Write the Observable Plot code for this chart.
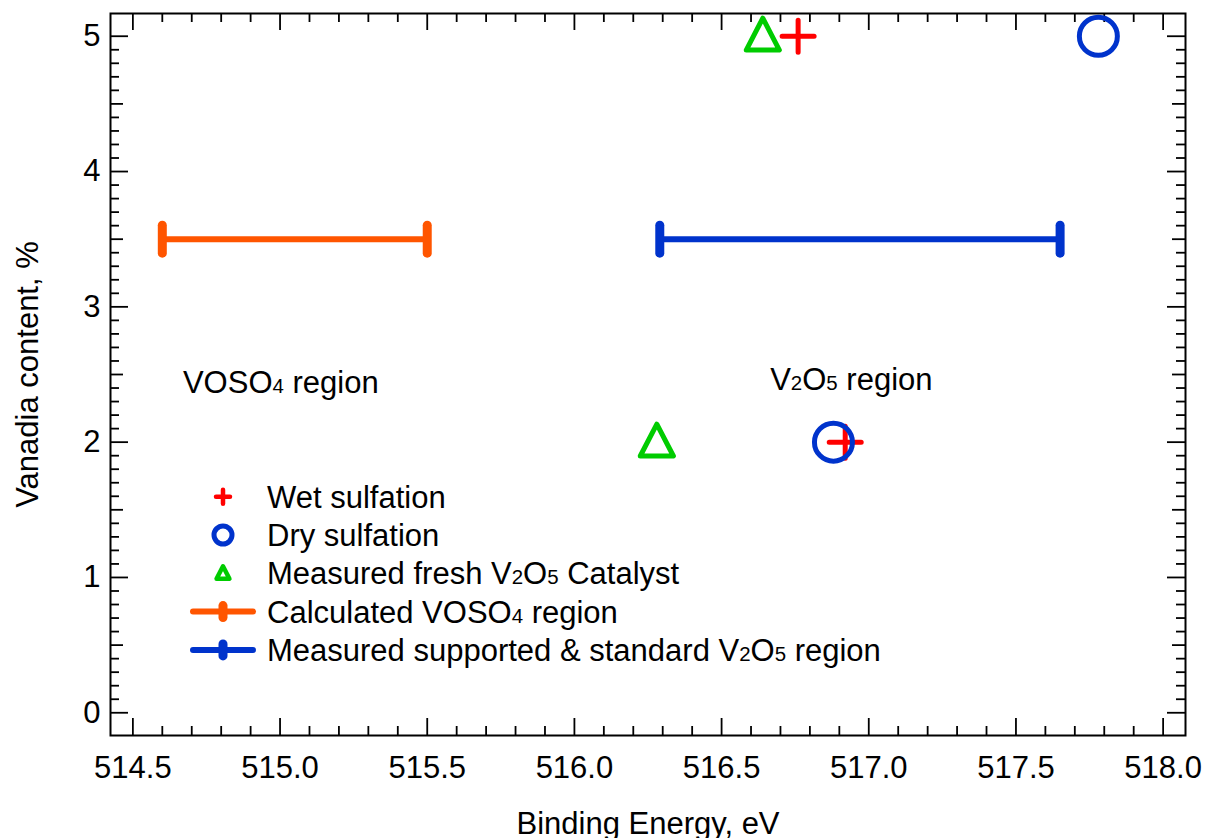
<!DOCTYPE html>
<html>
<head>
<meta charset="utf-8">
<script src="https://cdn.jsdelivr.net/npm/d3@7"></script>
<script src="https://cdn.jsdelivr.net/npm/@observablehq/plot@0.6"></script>
<style>
  html, body { margin: 0; padding: 0; background: #fff; }
  #chart { position: relative; width: 1205px; height: 838px; overflow: hidden; }
</style>
</head>
<body>
<div id="chart"></div>
<script>
// V 2p3/2 binding energy (eV) against vanadia loading (%)
const wetEnergy = [516.76, 516.92];
const wetContent = [5, 2];
const dryEnergy = [517.78, 516.88];
const dryContent = [5, 2];
const freshEnergy = [516.64, 516.28];
const freshContent = [5, 2];

// Reference binding-energy ranges drawn as capped bars
const regionStart = [514.6, 516.29];
const regionEnd = [515.5, 517.65];
const regionContent = [3.5, 3.5];

// Region captions ("_n" marks a subscript digit)
const regionLabels = ["VOSO_4 region", "V_2O_5 region"];
const regionLabelEnergy = [514.67, 516.665];
const regionLabelContent = [2.44, 2.46];

const legendNames = [
  "Wet sulfation",
  "Dry sulfation",
  "Measured fresh V_2O_5 Catalyst",
  "Calculated VOSO_4 region",
  "Measured supported & standard V_2O_5 region"
];

const xTicks = [514.5, 515.0, 515.5, 516.0, 516.5, 517.0, 517.5, 518.0];
const yTicks = [0, 1, 2, 3, 4, 5];

const RED = "#ff0000", BLUE = "#0033cc", GREEN = "#00cc00", ORANGE = "#ff5500";
const regionColors = [ORANGE, BLUE];

// Stroke-drawn marker shapes
const plusSym = {draw(c, size) { const r = Math.sqrt(size / Math.PI);
  c.moveTo(-r, 0); c.lineTo(r, 0); c.moveTo(0, -r); c.lineTo(0, r); }};
const triSym = {draw(c, size) { const r = Math.sqrt(size / Math.PI);
  c.moveTo(0, -r); c.lineTo(0.92 * r, 0.77 * r); c.lineTo(-0.92 * r, 0.77 * r); c.closePath(); }};
const capSym = {draw(c, size) { const r = Math.sqrt(size / Math.PI);
  c.moveTo(0, -r); c.lineTo(0, r); }};

const W = 1205, H = 838;
const mL = 110, mR = 20, mT = 13, mB = 103;
const FW = W - mL - mR, FH = H - mT - mB;

const xMinor = d3.range(5145, 5181).filter(k => k % 5 !== 0).map(k => k / 10);
const yHalf = d3.range(0, 5).map(k => k + 0.5);
const yMinor = d3.range(0, 51).filter(k => k % 5 !== 0).map(k => k / 10);

const tickStyle = {stroke: "black", strokeWidth: 1.8};

const marks = [
  // inward ticks on all four sides
  Plot.tickX(xTicks, {x: d => d, insetTop: FH - 17, ...tickStyle}),
  Plot.tickX(xMinor, {x: d => d, insetTop: FH - 9, ...tickStyle}),
  Plot.tickX(xTicks, {x: d => d, insetBottom: FH - 17, ...tickStyle}),
  Plot.tickX(xMinor, {x: d => d, insetBottom: FH - 9, ...tickStyle}),
  Plot.tickY(yTicks, {y: d => d, insetRight: FW - 18, ...tickStyle}),
  Plot.tickY(yHalf, {y: d => d, insetRight: FW - 13, ...tickStyle}),
  Plot.tickY(yMinor, {y: d => d, insetRight: FW - 9, ...tickStyle}),
  Plot.tickY(yTicks, {y: d => d, insetLeft: FW - 18, ...tickStyle}),
  Plot.tickY(yHalf, {y: d => d, insetLeft: FW - 13, ...tickStyle}),
  Plot.tickY(yMinor, {y: d => d, insetLeft: FW - 9, ...tickStyle}),
  Plot.axisX(xTicks, {tickSize: 0, tickPadding: 20, tickFormat: d3.format(".1f"), label: null}),
  Plot.axisY(yTicks, {tickSize: 0, tickPadding: 10, tickFormat: d3.format("d"), label: null}),
  Plot.frame({stroke: "black", strokeWidth: 2}),
  Plot.text(["Binding Energy, eV"], {frameAnchor: "bottom", dy: 76, lineAnchor: "top", textAnchor: "middle", text: d => d}),
  Plot.text(["Vanadia content, %"], {frameAnchor: "left", dx: -82, rotate: -90, lineAnchor: "middle", textAnchor: "middle", text: d => d})
];

// capped range bars
regionContent.forEach((yv, i) => {
  marks.push(Plot.ruleY([yv], {y: d => d, x1: regionStart[i], x2: regionEnd[i],
    stroke: regionColors[i], strokeWidth: 6}));
  marks.push(Plot.dot([regionStart[i], regionEnd[i]], {x: d => d, y: yv, symbol: capSym, r: 14,
    fill: "none", stroke: regionColors[i], strokeWidth: 9, strokeLinecap: "round"}));
});

marks.push(
  Plot.text(regionLabels, {x: (d, i) => regionLabelEnergy[i], y: (d, i) => regionLabelContent[i],
    text: d => d, textAnchor: "start", lineAnchor: "middle", fill: "black"}),
  Plot.dot(wetEnergy, {x: d => d, y: (d, i) => wetContent[i], symbol: plusSym, r: 16,
    fill: "none", stroke: RED, strokeWidth: 5, strokeLinecap: "round"}),
  Plot.dot(dryEnergy, {x: d => d, y: (d, i) => dryContent[i], r: 19,
    fill: "none", stroke: BLUE, strokeWidth: 5}),
  Plot.dot(freshEnergy, {x: d => d, y: (d, i) => freshContent[i], symbol: triSym, r: 18,
    fill: "none", stroke: GREEN, strokeWidth: 5, strokeLinejoin: "round"})
);

const chart = Plot.plot({
  width: W, height: H,
  marginLeft: mL, marginRight: mR, marginTop: mT, marginBottom: mB,
  style: {fontFamily: "'Liberation Sans', Arial, sans-serif", fontSize: "31px", color: "black", background: "white", overflow: "visible"},
  x: {domain: [514.424, 518.076]},
  y: {domain: [-0.168, 5.168]},
  marks
});

// turn "_n" into subscript tspans
function setRich(textEl, str) {
  const sel = d3.select(textEl);
  sel.text(null);
  str.split(/(_\d)/).forEach(part => {
    if (!part) return;
    if (part.startsWith("_")) sel.append("tspan").attr("font-size", "0.66em").text(part.slice(1));
    else sel.append("tspan").text(part);
  });
}
chart.querySelectorAll("text").forEach(t => {
  if (t.textContent.includes("_")) setRich(t, t.textContent);
});

// legend inside the frame
const svg = d3.select(chart);
const lg = svg.append("g").attr("class", "legend").attr("text-anchor", "start");
const rowY = [496.7, 535, 573.3, 611.6, 649.9];
const symX = 223, textX = 267;
const sw = (g, col, w) => g.attr("fill", "none").attr("stroke", col).attr("stroke-width", w)
  .attr("stroke-linecap", "round").attr("stroke-linejoin", "round");
legendNames.forEach((name, i) => {
  const g = lg.append("g").attr("transform", `translate(${symX},${rowY[i]})`);
  if (i === 0) sw(g.append("path").attr("d", d3.symbol(plusSym, 7 * 7 * Math.PI)()), RED, 4.5);
  if (i === 1) sw(g.append("circle").attr("r", 9), BLUE, 5);
  if (i === 2) sw(g.append("path").attr("d", d3.symbol(triSym, 7 * 7 * Math.PI)()), GREEN, 4.5);
  if (i >= 3) {
    const col = regionColors[i - 3];
    sw(g.append("line").attr("x1", -30).attr("x2", 30), col, 6);
    sw(g.append("line").attr("y1", -6).attr("y2", 6), col, 9);
  }
  const t = lg.append("text").attr("x", textX).attr("y", rowY[i]).attr("dy", "0.36em")
    .attr("fill", "black").attr("text-anchor", "start");
  setRich(t.node(), name);
});

document.getElementById("chart").appendChild(chart);
</script>
</body>
</html>
